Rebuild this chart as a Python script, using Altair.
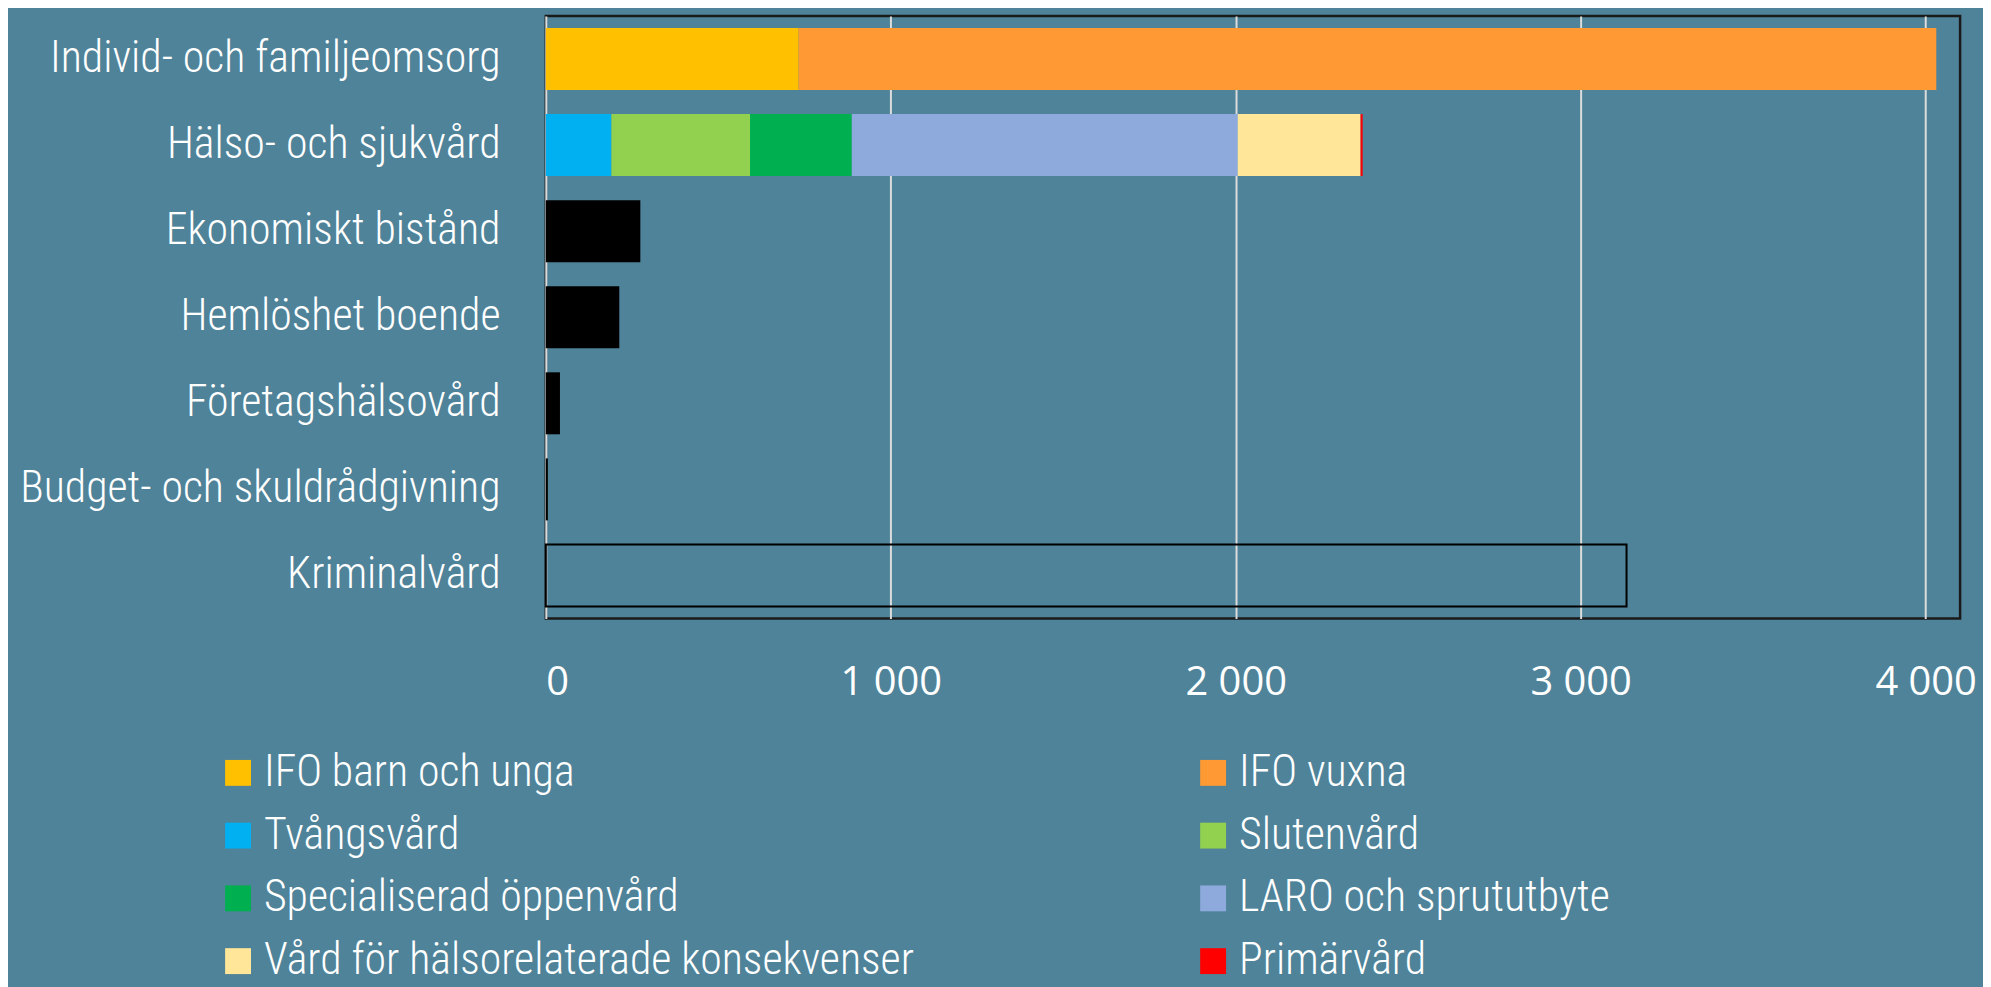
import altair as alt
import pandas as pd

categories = [
    "Individ- och familjeomsorg",
    "Hälso- och sjukvård",
    "Ekonomiskt bistånd",
    "Hemlöshet boende",
    "Företagshälsovård",
    "Budget- och skuldrådgivning",
    "Kriminalvård",
]

ifo_parts = ["IFO barn och unga", "IFO vuxna"]
ifo_values = [733, 3298]

hs_parts = [
    "Tvångsvård",
    "Slutenvård",
    "Specialiserad öppenvård",
    "LARO och sprututbyte",
    "Vård för hälsorelaterade konsekvenser",
    "Primärvård",
]
hs_values = [190, 402, 295, 1119, 356, 6]

single_cats = ["Ekonomiskt bistånd", "Hemlöshet boende", "Företagshälsovård", "Budget- och skuldrådgivning"]
single_values = [274, 213, 41, 6]

krim_cat = ["Kriminalvård"]
krim_values = [3133]

legend_order = [
    "IFO barn och unga", "IFO vuxna",
    "Tvångsvård", "Slutenvård",
    "Specialiserad öppenvård", "LARO och sprututbyte",
    "Vård för hälsorelaterade konsekvenser", "Primärvård",
]
legend_colors = ["#FFC000", "#FF9933", "#00B0F0", "#92D050", "#00B050", "#8EA9DB", "#FFE699", "#FF0000"]

tick_values = [0, 1000, 2000, 3000, 4000]

NARROW = "Roboto Condensed"

stack_rows = []
for i, (p, v) in enumerate(zip(ifo_parts, ifo_values)):
    stack_rows.append({"cat": categories[0], "part": p, "value": v, "ord": i})
for i, (p, v) in enumerate(zip(hs_parts, hs_values)):
    stack_rows.append({"cat": categories[1], "part": p, "value": v, "ord": i})
stack_df = pd.DataFrame(stack_rows)
single_df = pd.DataFrame({"cat": single_cats, "value": single_values})
krim_df = pd.DataFrame({"cat": krim_cat, "value": krim_values})

yscale = alt.Scale(domain=categories, paddingInner=0.28, paddingOuter=0.14)
xscale = alt.Scale(domain=[0, 4100], nice=False, zero=True)

y_enc = alt.Y(
    "cat:N",
    scale=yscale,
    sort=categories,
    title=None,
    axis=alt.Axis(
        labelFont=NARROW,
        labelFontSize=44,
        labelFontWeight=300,
        labelColor="white",
        labelPadding=46,
        labelLimit=800,
        ticks=False,
        domain=False,
    ),
)

x_axis = alt.Axis(
    values=tick_values,
    grid=True,
    gridColor="#dcdcdc",
    gridWidth=2,
    ticks=False,
    domain=False,
    labelFont="Open Sans",
    labelFontSize=40,
    labelColor="white",
    labelPadding=44,
    labelExpr="replace(format(datum.value, ','), ',', ' ')",
)

stacked = alt.Chart(stack_df).mark_bar().encode(
    x=alt.X("sum(value):Q", scale=xscale, axis=x_axis, title=None, stack="zero"),
    y=y_enc,
    color=alt.Color(
        "part:N",
        scale=alt.Scale(domain=legend_order, range=legend_colors),
        legend=alt.Legend(
            title=None,
            orient="none",
            direction="horizontal",
            legendX=-331,
            legendY=738,
            columns=2,
            columnPadding=278,
            rowPadding=19,
            symbolType="square",
            symbolSize=676,
            symbolStrokeWidth=0,
            symbolOpacity=1,
            labelFont=NARROW,
            labelFontSize=44,
            labelFontWeight=300,
            labelColor="white",
            labelLimit=1000,
            labelOffset=4,
        ),
    ),
    order=alt.Order("ord:Q", sort="ascending"),
)

singles = alt.Chart(single_df).mark_bar(color="black").encode(
    x=alt.X("value:Q", scale=xscale, title=None),
    y=y_enc,
)

krim = alt.Chart(krim_df).mark_bar(fillOpacity=0, stroke="black", strokeWidth=2).encode(
    x=alt.X("value:Q", scale=xscale, title=None),
    y=y_enc,
)

chart = (
    alt.layer(stacked, singles, krim)
    .properties(
        width=1420,
        height=605,
        autosize=alt.AutoSizeParams(type="none"),
        padding={"left": 540, "top": 6, "right": 23, "bottom": 368},
        background="#4f8399",
    )
    .configure_view(stroke="#1a1a1a", strokeWidth=2.5)
)

chart.save("out.html", embed_options={"renderer": "svg", "actions": False})
